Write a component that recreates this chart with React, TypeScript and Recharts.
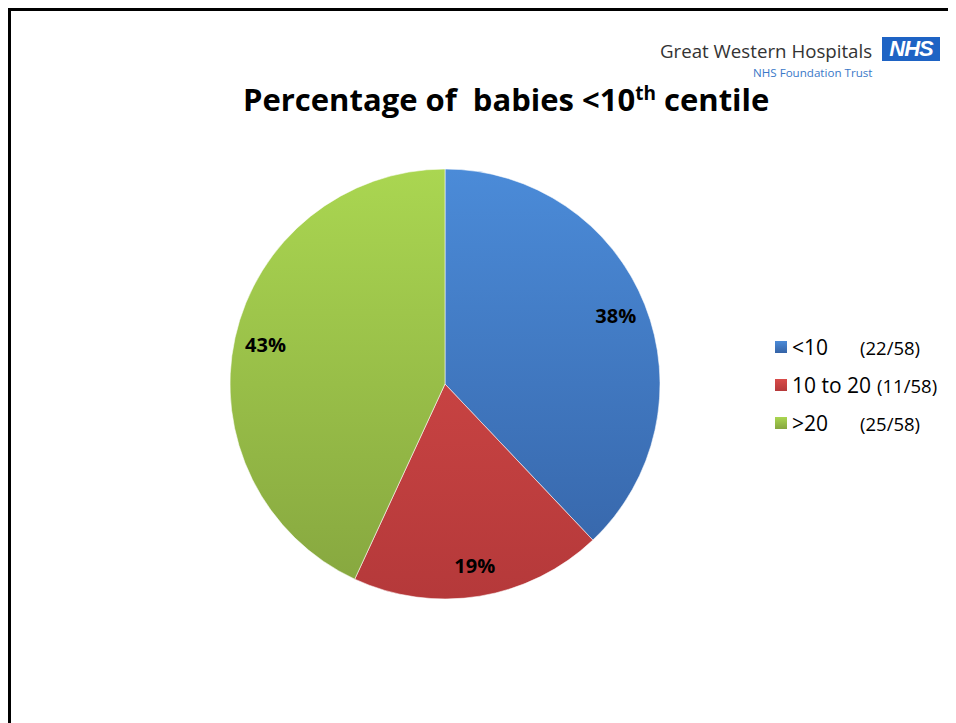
import { PieChart, Pie, Cell, Legend } from "recharts";

const categories = ["<10", "10 to 20", ">20"];
const counts = [22, 11, 25];
const total = 58;

const colorsTop = ["#4b8bd8", "#d94c4a", "#aad651"];
const colorsBottom = ["#3563a6", "#b5393a", "#86a63f"];

const data = categories.map((name, i) => ({ name, value: counts[i] }));

const RADIAN = Math.PI / 180;
const FONT = "'Open Sans', Lato, sans-serif";

const CX = 437;
const CY = 376;
const R = 215;

const renderLabel = (props: any) => {
  const { cx, cy, midAngle, outerRadius, percent } = props;
  const r = outerRadius * 0.855;
  const x = cx + r * Math.cos(-midAngle * RADIAN);
  const y = cy + r * Math.sin(-midAngle * RADIAN);
  return (
    <text
      x={x}
      y={y}
      textAnchor="middle"
      dominantBaseline="central"
      fill="#000"
      fontFamily={FONT}
      fontWeight={700}
      fontSize={20}
    >
      {`${Math.round(percent * 100)}%`}
    </text>
  );
};

const renderLegend = () => (
  <div style={{ fontFamily: FONT, color: "#000" }}>
    {categories.map((name, i) => (
      <div
        key={name}
        style={{ display: "flex", alignItems: "center", height: 38 }}
      >
        <span
          style={{
            display: "inline-block",
            width: 12,
            height: 12,
            marginRight: 5,
            background: `linear-gradient(${colorsTop[i]}, ${colorsBottom[i]})`,
          }}
        />
        <span style={{ fontSize: 21, minWidth: 62 }}>{name}</span>
        <span style={{ fontSize: 18.5, marginLeft: 6 }}>
          ({counts[i]}/{total})
        </span>
      </div>
    ))}
  </div>
);

export default function App() {
  return (
    <div style={{ position: "relative", width: 948, height: 715 }}>
      <div
        style={{
          position: "absolute",
          inset: 0,
          borderLeft: "3px solid #000",
          borderTop: "3px solid #000",
          pointerEvents: "none",
        }}
      />
      <div
        style={{
          position: "absolute",
          left: 235,
          top: 71,
          fontFamily: FONT,
          fontWeight: 700,
          fontSize: 31,
          lineHeight: "40px",
          whiteSpace: "pre",
          color: "#000",
        }}
      >
        Percentage of  babies &lt;10
        <span style={{ fontSize: 19, position: "relative", top: -11 }}>th</span>
        {" centile"}
      </div>
      <div
        style={{
          position: "absolute",
          left: 652,
          top: 30,
          fontFamily: FONT,
          fontSize: 18.7,
          color: "#333",
          whiteSpace: "nowrap",
        }}
      >
        Great Western Hospitals
      </div>
      <div
        style={{
          position: "absolute",
          left: 874,
          top: 29,
          width: 58,
          height: 24,
          background: "#1e63c4",
          color: "#fff",
          fontFamily: "'Liberation Sans', Arial, sans-serif",
          fontWeight: 700,
          fontStyle: "italic",
          fontSize: 22,
          lineHeight: "24px",
          textAlign: "center",
          letterSpacing: -1,
        }}
      >
        NHS
      </div>
      <div
        style={{
          position: "absolute",
          left: 745,
          top: 57,
          fontFamily: FONT,
          fontSize: 11.6,
          color: "#3a78c8",
          whiteSpace: "nowrap",
        }}
      >
        NHS Foundation Trust
      </div>
      <div style={{ position: "absolute", left: 0, top: 0 }}>
        <PieChart
          width={948}
          height={715}
          margin={{ top: 0, right: 0, bottom: 0, left: 0 }}
        >
          <defs>
            {categories.map((name, i) => (
              <linearGradient
                key={name}
                id={`grad${i}`}
                gradientUnits="userSpaceOnUse"
                x1={0}
                y1={CY - R}
                x2={0}
                y2={CY + R}
              >
                <stop offset="0%" stopColor={colorsTop[i]} />
                <stop offset="100%" stopColor={colorsBottom[i]} />
              </linearGradient>
            ))}
          </defs>
          <Pie
            data={data}
            dataKey="value"
            nameKey="name"
            cx={CX}
            cy={CY}
            outerRadius={R}
            startAngle={90}
            endAngle={-270}
            stroke="rgba(255,255,255,0.55)"
            strokeWidth={1}
            label={renderLabel}
            labelLine={false}
            isAnimationActive={false}
          >
            {data.map((d, i) => (
              <Cell key={d.name} fill={`url(#grad${i})`} />
            ))}
          </Pie>
          <Legend
            content={renderLegend}
            layout="vertical"
            wrapperStyle={{ position: "absolute", left: 767, top: 320, width: 190 }}
          />
        </PieChart>
      </div>
    </div>
  );
}
